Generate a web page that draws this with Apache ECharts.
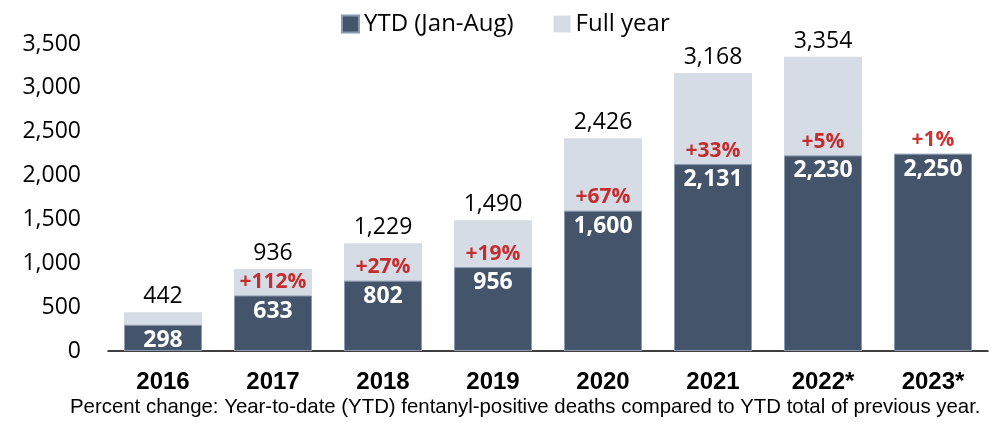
<!DOCTYPE html>
<html><head><meta charset="utf-8">
<script src="https://cdn.jsdelivr.net/npm/echarts@6/dist/echarts.min.js"></script>
<style>html,body{margin:0;padding:0;background:#fff}#c{width:994px;height:425px}</style>
</head><body><div id="c"></div>
<script>
const categories = ['2016','2017','2018','2019','2020','2021','2022*','2023*'];
const ytd = [298, 633, 802, 956, 1600, 2131, 2230, 2250];
const fullYear = [442, 936, 1229, 1490, 2426, 3168, 3354, null];
const pctChange = [null, '+112%', '+27%', '+19%', '+67%', '+33%', '+5%', '+1%'];
const yTicks = [0, 500, 1000, 1500, 2000, 2500, 3000, 3500];
const footnote = 'Percent change: Year-to-date (YTD) fentanyl-positive deaths compared to YTD total of previous year.';

const numFont = '"Open Sans", "Noto Sans", sans-serif';
const arial = '"Liberation Sans", Arial, sans-serif';
const chart = echarts.init(document.getElementById('c'));
chart.setOption({
  animation: false,
  grid: {left: 108, right: 6, top: 44, bottom: 74},
  legend: {
    top: 7, left: 336, itemWidth: 17, itemHeight: 17, itemGap: 40,
    textStyle: {fontFamily: numFont, fontSize: 24, color: '#000'},
    data: [{name: 'YTD (Jan-Aug)', icon: 'rect'}, {name: 'Full year', icon: 'rect'}]
  },
  title: {
    text: footnote, left: 65, bottom: 3,
    textStyle: {fontFamily: arial, fontSize: 20.4, fontWeight: 'normal', color: '#000'}
  },
  xAxis: {
    type: 'category', data: categories,
    axisLine: {lineStyle: {color: '#000', width: 1.5}},
    axisTick: {show: false},
    axisLabel: {fontFamily: arial, fontWeight: 'bold', fontSize: 24, color: '#000', margin: 19}
  },
  yAxis: {
    type: 'value', min: yTicks[0], max: yTicks[yTicks.length-1], interval: 500,
    splitLine: {show: false}, axisLine: {show: false}, axisTick: {show: false},
    axisLabel: {fontFamily: numFont, fontSize: 23, color: '#000', margin: 27,
      formatter: v => v.toLocaleString('en-US')}
  },
  series: [
    {
      name: 'Full year', type: 'bar', data: fullYear, barWidth: 78, barGap: '-100%', z: 1,
      itemStyle: {color: '#d6dce5'},
      label: {show: true, position: 'top', distance: 4, fontFamily: numFont, fontSize: 23, color: '#000',
        formatter: p => p.value == null ? '' : p.value.toLocaleString('en-US')}
    },
    {
      name: 'YTD (Jan-Aug)', type: 'bar', data: ytd, barWidth: 78, z: 2,
      itemStyle: {color: '#44546a', borderColor: '#8a9ab0', borderWidth: 1},
      label: {show: true, position: 'insideTop', distance: 4, fontFamily: numFont, fontWeight: 'bold', fontSize: 23, color: '#fff',
        formatter: p => p.value.toLocaleString('en-US')}
    },
    {
      name: 'pct', type: 'scatter', symbolSize: 0, z: 3,
      data: ytd.map((v, i) => pctChange[i] ? {value: v, label: {formatter: pctChange[i]}} : {value: v, label: {show: false}}),
      label: {show: true, position: 'top', distance: 3, fontFamily: numFont, fontWeight: 'bold', fontSize: 21, color: '#c00000'}
    }
  ]
});
</script></body></html>
